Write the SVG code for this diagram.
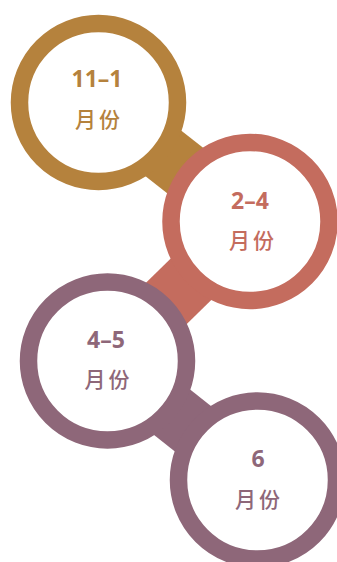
<svg xmlns="http://www.w3.org/2000/svg" width="337" height="562" viewBox="0 0 337 562">
<style>
.ring{fill:#fff;stroke-width:17.5}
.band{stroke-width:58;stroke-linecap:butt;fill:none}
.num{font-family:"Noto Sans","Open Sans",sans-serif;font-weight:700;font-size:23px;text-anchor:middle}
.mon{font-family:"Noto Sans CJK SC","Noto Sans",sans-serif;font-weight:500;font-size:21px;letter-spacing:3px;text-anchor:middle}
.c1{stroke:#B5823D}.t1{fill:#B5823D}
.c2{stroke:#C46C5E}.t2{fill:#C46C5E}
.c3{stroke:#8E6779}.t3{fill:#8E6779}
</style>
<rect width="337" height="562" fill="#fff"/>
<g id="connectors">
<line class="band c1" x1="98.5" y1="102.5" x2="250" y2="221.5"/>
<line class="band c2" x1="250" y1="221.5" x2="107.5" y2="361"/>
<line class="band c3" x1="107.5" y1="361" x2="257.5" y2="480"/>
</g>
<g id="node1">
<circle class="ring c1" cx="98.5" cy="102.5" r="79"/>
<text class="num t1" x="97" y="87">11–1</text>
<text class="mon t1" x="99" y="127">月份</text>
</g>
<g id="node2">
<circle class="ring c2" cx="250" cy="221.5" r="79"/>
<text class="num t2" x="250" y="208.5">2–4</text>
<text class="mon t2" x="253" y="248">月份</text>
</g>
<g id="node3">
<circle class="ring c3" cx="107.5" cy="361" r="79"/>
<text class="num t3" x="106" y="347.5">4–5</text>
<text class="mon t3" x="108.5" y="387">月份</text>
</g>
<g id="node4">
<circle class="ring c3" cx="257.5" cy="480" r="79"/>
<text class="num t3" x="258" y="467">6</text>
<text class="mon t3" x="259" y="506.5">月份</text>
</g>
</svg>
